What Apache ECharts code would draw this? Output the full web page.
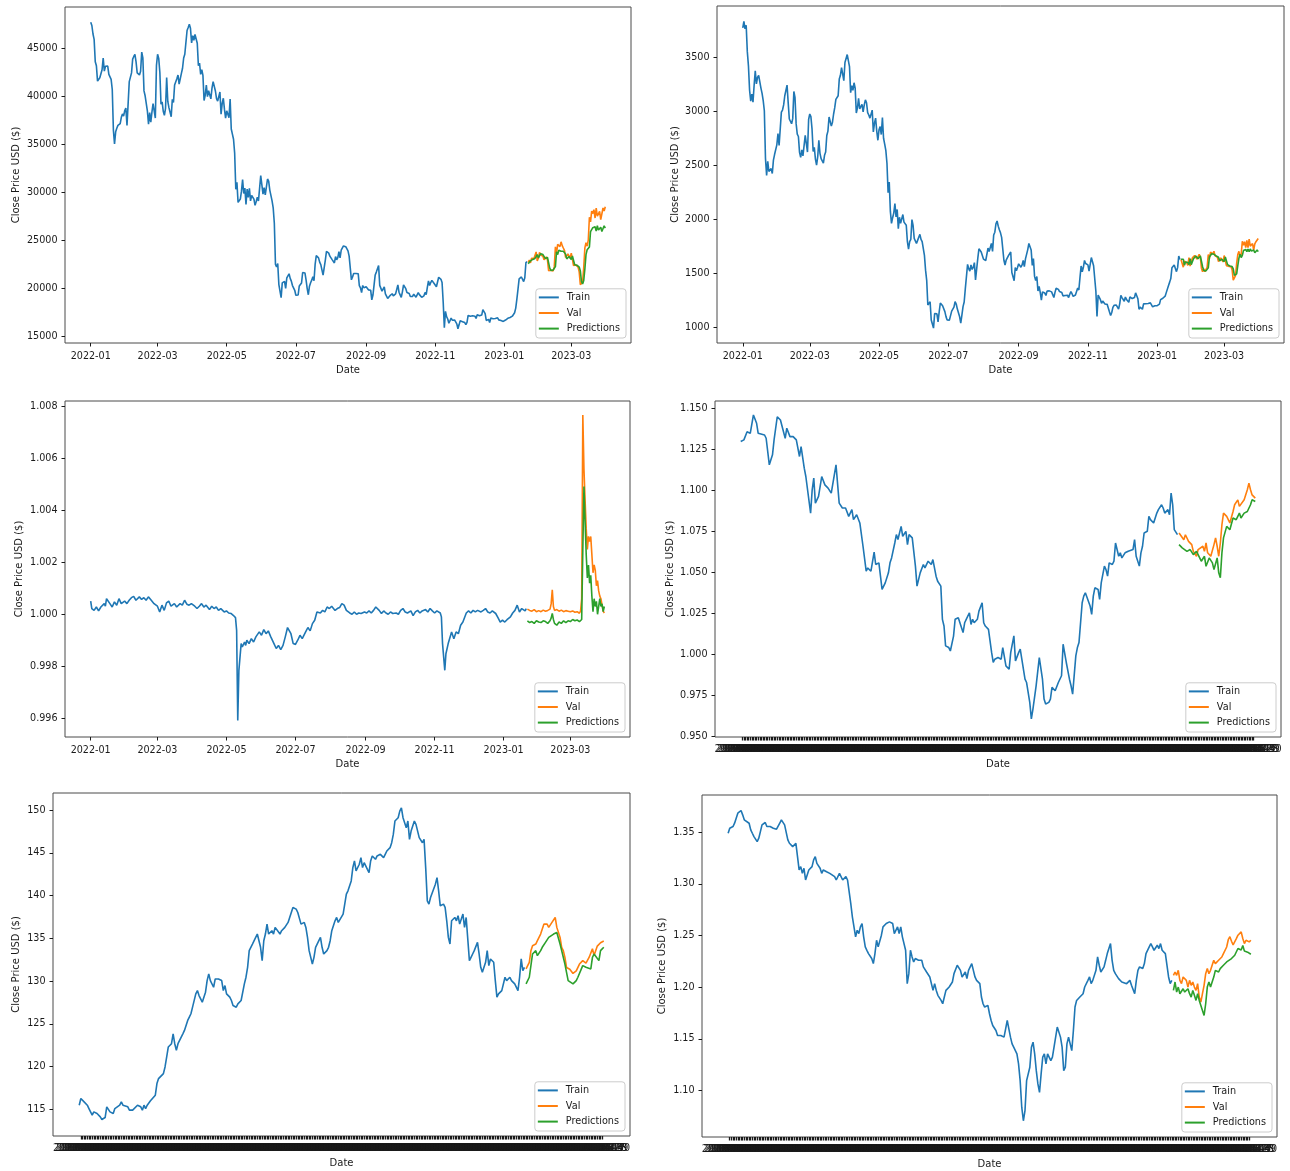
<!DOCTYPE html>
<html>
<head>
<meta charset="utf-8">
<title>Close price: train, validation and predictions</title>
<script src="https://cdn.jsdelivr.net/npm/echarts@6/dist/echarts.min.js"></script>
<style>
  html, body { margin: 0; padding: 0; background: #ffffff; }
  #chart { width: 1290px; height: 1171px; }
</style>
</head>
<body>
<div id="chart"></div>
<script>
// ---------------- data ----------------
// Crypto panels: x is the day offset from 2022-01-01 (daily closes).
const cryptoTickDays = [0, 59, 120, 181, 243, 304, 365, 424];
const cryptoTickLabels = ['2022-01', '2022-03', '2022-05', '2022-07', '2022-09', '2022-11', '2023-01', '2023-03'];
const cryptoLastDay = 454;
const valStartDay = 386;

const btcTrain = [
  47686, 47345, 46458, 45897, 43569, 43160, 41558, 41734, 41912, 41822,
  42736, 43949, 42592, 43099, 43177, 43113, 42250, 42375, 41744, 40681,
  36458, 35031, 36276, 36654, 36954, 36852, 37138, 37784, 38138, 37917,
  38483, 38743, 36952, 37154, 41501, 41441, 42412, 43841, 44118, 44338,
  43565, 42407, 42244, 42197, 42586, 44575, 43961, 40538, 40030, 40122,
  38431, 37075, 38286, 37296, 38332, 39214, 39105, 37709, 43194, 44354,
  43925, 42452, 39148, 39398, 38420, 37988, 38731, 41941, 39439, 38795,
  38905, 37849, 39666, 39339, 41143, 40951, 41801, 42191, 41247, 41078,
  42358, 42893, 43960, 44349, 44500, 46820, 47128, 47465, 47063, 45538,
  46282, 45811, 46407, 46580, 45497, 43170, 43445, 42252, 42753, 42158,
  39530, 40075, 41147, 39942, 40552, 40424, 39716, 40827, 41502, 41374,
  40527, 39741, 39469, 39450, 40427, 38117, 39241, 39773, 38609, 37714,
  38470, 38529, 37750, 39698, 36575, 36040, 35502, 34059, 30296, 31023,
  28936, 29047, 29284, 30101, 31306, 29862, 30425, 28720, 30314, 29445,
  30397, 29098, 29655, 29562, 29267, 28627, 29031, 29468, 29074, 29043,
  31726, 31793, 29799, 30467, 29705, 29833, 31370, 31155, 30215, 30112,
  29083, 28360, 26762, 22487, 22206, 22572, 20381, 20471, 19017, 20553,
  20599, 20711, 19987, 21085, 21231, 21502, 21028, 20735, 20281, 20105,
  19785, 19269, 19243, 19297, 20231, 20190, 20548, 21637, 21731, 21592,
  20860, 19970, 19323, 20212, 20569, 20837, 21191, 20779, 22485, 23389,
  23231, 23164, 22715, 22465, 22610, 21361, 21239, 22930, 23843, 23804,
  23656, 23336, 23314, 22978, 22846, 22630, 23289, 22961, 23175, 23810,
  23149, 23954, 23935, 24403, 24442, 24319, 24136, 23883, 23336, 23213,
  20877, 21166, 21534, 21399, 21529, 21369, 21515, 20260, 20035, 19550,
  20286, 20049, 20127, 20147, 19970, 19832, 20001, 19796, 18791, 19292,
  19319, 21381, 21680, 21769, 22371, 20296, 20242, 19701, 19773, 20128,
  19420, 19297, 18938, 18802, 19222, 19110, 19426, 19207, 19079, 19413,
  19297, 20340, 19587, 19313, 19044, 19623, 20336, 20160, 19955, 19546,
  19417, 19446, 19141, 19052, 19157, 19382, 19185, 19068, 19268, 19550,
  19334, 19139, 19053, 19172, 19208, 19567, 19345, 20095, 20771, 20286,
  20595, 20818, 20635, 20495, 20485, 20159, 20209, 21147, 21282, 20926,
  20602, 18541, 15880, 17586, 17034, 16799, 16353, 16618, 16884, 16669,
  16687, 16697, 16711, 16291, 15787, 16189, 16610, 16604, 16522, 16459,
  16428, 16213, 16444, 17168, 16968, 17089, 16908, 17130, 16975, 17089,
  16848, 17233, 17134, 17128, 17104, 17206, 17781, 17815, 17365, 16648,
  16796, 16757, 16440, 16895, 16825, 16829, 16796, 16847, 16842, 16920,
  16706, 16548, 16634, 16607, 16547, 16625, 16688, 16679, 16863, 16836,
  16951, 16955, 17091, 17197, 17446, 17934, 18869, 19910, 20977, 20880,
  21170, 21161, 20688, 21086, 22676, 22777
];
const btcVal = [
  22720, 22934, 22636, 23117, 23033, 23078, 23031, 23774, 22840, 23139,
  23723, 23471, 23449, 23331, 22955, 22760, 23264, 22940, 21819, 21652,
  21870, 21788, 21808, 22220, 24307, 23623, 24565, 24641, 24327, 24829,
  24436, 24188, 23947, 23199, 23175, 23562, 23522, 23147, 23647, 23476,
  22362, 22354, 22430, 22410, 22198, 21705, 20363, 20188, 20633, 22163,
  24197, 24747, 24375, 24998, 27395, 26908, 28038, 27767, 28176, 27307,
  28333, 27493, 27494, 27994, 27140, 27268, 28348, 28033, 28478
];
const btcPred = [
  22550, 22700, 22850, 22800, 23000, 23050, 23100, 23050, 23500, 23150,
  23200, 23600, 23550, 23500, 23400, 23100, 22900, 23200, 23000, 22100,
  21850, 21950, 21900, 21900, 22250, 23800, 23500, 23950, 24050, 23850,
  24050, 23850, 23700, 23550, 23050, 23000, 23300, 23300, 23000, 23350,
  23250, 22450, 22350, 22400, 22400, 22200, 21800, 20700, 20450, 20800,
  22000, 23500, 24000, 23900, 24300, 25900, 25700, 26300, 26200, 26400,
  25950, 26500, 26050, 26100, 26350, 25900, 25950, 26500, 26250
];

const ethTrain = [
  3769, 3829, 3761, 3794, 3550, 3418, 3193, 3092, 3157, 3083, 3239, 3372, 3251, 3311, 3331, 3349,
  3213, 3164, 3096, 3003, 2563, 2405, 2535, 2441, 2457, 2468, 2423, 2546, 2598, 2603, 2688,
  2792, 2682, 2678, 2990, 3010, 3057, 3142, 3124, 3240, 3078, 2927, 2917, 2883, 2930, 3182, 3126,
  2884, 2786, 2765, 2618, 2573, 2641, 2586, 2598, 2776, 2782, 2621, 2922,
  2973, 2949, 2835, 2627, 2665, 2556, 2500, 2576, 2729, 2609, 2560, 2577, 2518, 2591, 2621, 2774,
  2815, 2945, 2950, 2862, 2897, 2973, 3032, 3108, 3106, 3142, 3296, 3331, 3401, 3384, 3282,
  3449, 3445, 3523, 3521, 3411, 3170, 3235, 3191, 3262, 3211, 2982, 3030, 3118, 3020, 3041,
  3062, 2992, 3057, 3104, 3077, 2986, 2964, 2935, 2922, 3009, 2808, 2889, 2935, 2815, 2730,
  2827, 2857, 2783, 2940, 2749, 2695, 2636, 2518, 2245, 2343, 2072, 1961, 2014, 2057, 2145,
  2022, 2090, 1913, 2018, 1961, 1975, 2043, 1973, 1978, 1944, 1792, 1724, 1793, 1813, 1997, 1942,
  1823, 1834, 1775, 1804, 1806, 1860, 1813, 1793, 1789, 1666, 1529, 1435, 1207, 1208, 1236,
  1068, 1086, 993, 1127, 1127, 1125, 1051, 1143, 1225, 1243, 1199, 1193, 1145, 1099, 1068,
  1059, 1067, 1074, 1150, 1134, 1187, 1238, 1216, 1169, 1169, 1097, 1038, 1113, 1191, 1234,
  1355, 1339, 1582, 1543, 1520, 1577, 1535, 1554, 1599, 1439, 1450, 1637, 1726, 1723, 1696, 1679,
  1631, 1635, 1618, 1608, 1733, 1702, 1700, 1776, 1702, 1854, 1880, 1958, 1983, 1936, 1902,
  1874, 1832, 1848, 1620, 1577, 1621, 1624, 1663, 1656, 1697, 1507, 1491, 1431, 1553, 1524, 1554,
  1587, 1578, 1556, 1577, 1618, 1561, 1633, 1636, 1719, 1776, 1761, 1716, 1573, 1636, 1471,
  1432, 1470, 1336, 1378, 1324, 1252, 1328, 1328, 1317, 1294, 1335, 1330, 1337, 1335, 1328,
  1311, 1276, 1323, 1362, 1352, 1351, 1331, 1317, 1322, 1291, 1279, 1294, 1288, 1297, 1275,
  1306, 1331, 1311, 1286, 1283, 1299, 1314, 1364, 1345, 1460, 1567, 1514, 1555, 1619, 1590, 1573,
  1578, 1519, 1531, 1645, 1628, 1570, 1568, 1334, 1100, 1299, 1287, 1256, 1222, 1243, 1253,
  1216, 1201, 1212, 1219, 1142, 1109, 1137, 1184, 1203, 1198, 1206, 1196, 1169, 1217, 1295,
  1275, 1280, 1241, 1280, 1258, 1270, 1232, 1282, 1264, 1266, 1262, 1276, 1319, 1309, 1265,
  1167, 1188, 1185, 1167, 1217, 1211, 1218, 1220, 1221, 1218, 1226, 1213, 1190, 1201, 1199, 1196,
  1200, 1214, 1215, 1256, 1251, 1269, 1264, 1288, 1321, 1336, 1387, 1418, 1451, 1550, 1552,
  1577, 1567, 1515, 1552, 1659, 1628
];
const ethVal = [
  1628, 1628, 1556, 1612, 1603, 1598, 1572, 1645, 1567, 1585,
  1642, 1640, 1665, 1672, 1631, 1616, 1674, 1651, 1547, 1515, 1541, 1515, 1506, 1555,
  1674, 1636, 1695, 1692, 1680, 1703, 1661, 1643, 1650, 1609, 1596, 1641, 1634, 1605,
  1664, 1648, 1570, 1569, 1564, 1565, 1561, 1534, 1437, 1429, 1479, 1592, 1673, 1703, 1650,
  1677, 1796, 1759, 1792, 1738, 1805, 1736, 1816, 1751, 1741, 1775, 1714, 1772, 1792, 1793, 1822
];
const ethPred = [
  1630, 1625, 1630, 1575, 1605, 1605, 1600, 1580, 1635, 1580,
  1590, 1635, 1640, 1660, 1665, 1635, 1620, 1660, 1650, 1560, 1525, 1540, 1522, 1515,
  1550, 1650, 1635, 1680, 1685, 1675, 1690, 1660, 1645, 1648, 1615, 1600, 1630, 1630,
  1608, 1650, 1640, 1580, 1572, 1567, 1566, 1562, 1540, 1480, 1470, 1495, 1570, 1640, 1675,
  1645, 1665, 1710, 1705, 1720, 1700, 1725, 1700, 1725, 1705, 1700, 1715, 1690, 1705, 1715, 1700
];

// [day offset, close]
const usdtTrain = [
  [0,1.00051],[1,1.00022],[3,1.00015],[5,1.00028],[7,1.00013],[9,1.00028],[12,1.00041],[13,1.00031],
  [14,1.00060],[17,1.00041],[19,1.00028],[21,1.00048],[23,1.00035],[25,1.00060],[27,1.00041],[30,1.00051],
  [32,1.00041],[34,1.00054],[36,1.00064],[38,1.00069],[40,1.00054],[43,1.00067],[45,1.00057],[47,1.00064],
  [49,1.00054],[51,1.00067],[53,1.00057],[56,1.00041],[57,1.00048],[59,1.00031],[61,1.00009],[63,1.00035],
  [65,1.00015],[67,1.00044],[69,1.00051],[71,1.00031],[74,1.00041],[76,1.00028],[79,1.00041],[81,1.00035],
  [83,1.00054],[85,1.00039],[87,1.00035],[89,1.00041],[92,1.00031],[94,1.00022],[96,1.00031],[98,1.00041],
  [100,1.00028],[102,1.00035],[105,1.00018],[107,1.00031],[109,1.00022],[111,1.00028],[113,1.00015],[115,1.00022],
  [118,1.00009],[120,1.00013],[122,1.00005],[124,1.00003],[126,0.99996],[128,0.99987],[129,0.99938],[130,0.99591],
  [131,0.99784],[133,0.99887],[134,0.99874],[136,0.99893],[137,0.99880],[138,0.99900],[140,0.99887],[142,0.99906],
  [144,0.99893],[146,0.99913],[149,0.99932],[151,0.99919],[153,0.99941],[155,0.99925],[157,0.99936],[159,0.99915],
  [162,0.99887],[164,0.99868],[166,0.99880],[168,0.99864],[170,0.99880],[172,0.99913],[174,0.99949],[177,0.99925],
  [179,0.99887],[181,0.99884],[183,0.99900],[185,0.99919],[187,0.99906],[190,0.99932],[192,0.99949],[194,0.99936],
  [196,0.99964],[198,0.99977],[200,1.00009],[203,1.00005],[205,1.00015],[207,1.00009],[209,1.00028],[211,1.00022],
  [213,1.00031],[216,1.00015],[218,1.00022],[220,1.00026],[222,1.00041],[224,1.00035],[226,1.00015],[229,1.00005],
  [231,1.00000],[233,1.00009],[235,1.00000],[237,1.00005],[239,1.00003],[242,1.00009],[244,1.00005],[246,1.00013],
  [248,1.00005],[250,1.00015],[252,1.00028],[255,1.00015],[257,1.00003],[259,1.00013],[261,1.00005],[263,1.00000],
  [265,1.00009],[267,1.00003],[270,1.00005],[272,1.00000],[274,1.00015],[276,1.00022],[278,1.00009],[280,1.00005],
  [283,1.00013],[285,0.99995],[287,1.00009],[289,1.00015],[291,1.00005],[293,1.00013],[296,1.00018],[298,1.00009],
  [300,1.00022],[302,1.00013],[304,1.00005],[306,1.00013],[309,1.00005],[310,0.99990],[311,0.99887],[313,0.99784],
  [314,0.99848],[316,0.99887],[319,0.99932],[321,0.99906],[323,0.99932],[325,0.99925],[327,0.99958],[329,0.99970],
  [332,1.00005],[334,1.00013],[336,1.00005],[338,1.00015],[340,1.00009],[342,1.00015],[345,1.00009],[347,1.00015],
  [349,1.00022],[351,1.00009],[353,1.00005],[355,1.00013],[358,1.00003],[360,0.99987],[362,0.99970],[364,0.99977],
  [366,0.99970],[368,0.99979],[371,0.99990],[373,1.00005],[375,1.00015],[377,1.00035],[379,1.00009],[381,1.00022],
  [384,1.00013],[385,1.00022]
];
const usdtVal = [
  [386,1.00020],[388,1.00015],[390,1.00012],[392,1.00018],[394,1.00010],[396,1.00014],[398,1.00010],[400,1.00016],
  [402,1.00012],[404,1.00015],[406,1.00020],[407,1.00040],[408,1.00094],[409,1.00030],[410,1.00015],[412,1.00018],
  [414,1.00012],[416,1.00016],[418,1.00010],[420,1.00014],[422,1.00012],[424,1.00010],[426,1.00013],[428,1.00008],
  [430,1.00010],[432,1.00004],[433,1.00012],[434,1.00060],[435,1.00768],[436,1.00560],[437,1.00440],[438,1.00330],
  [439,1.00250],[440,1.00300],[441,1.00280],[442,1.00300],[443,1.00230],[444,1.00160],[445,1.00190],[446,1.00170],
  [447,1.00110],[448,1.00130],[449,1.00090],[450,1.00070],[451,1.00060],[452,1.00035],[453,1.00012],[454,1.00005]
];
const usdtPred = [
  [386,0.99975],[388,0.99968],[390,0.99972],[392,0.99965],[394,0.99975],[396,0.99970],[398,0.99968],[400,0.99975],
  [402,0.99972],[404,0.99965],[406,0.99975],[407,0.99985],[408,1.00003],[409,0.99980],[410,0.99965],[412,0.99958],
  [414,0.99970],[416,0.99965],[418,0.99975],[420,0.99968],[422,0.99975],[424,0.99972],[426,0.99980],[428,0.99975],
  [430,0.99978],[432,0.99972],[434,0.99980],[435,1.00250],[436,1.00492],[437,1.00360],[438,1.00230],[439,1.00140],
  [440,1.00190],[441,1.00120],[442,1.00150],[443,1.00070],[444,1.00010],[445,1.00060],[446,1.00030],[447,1.00050],
  [448,1.00000],[449,0.99995],[450,1.00060],[451,1.00030],[452,1.00040],[453,1.00010],[454,1.00030]
];

// Forex panels: x is the trading-day index; every trading day is a category label.
const fxCount = 325;
const fxFirstDay = '2022-01-03';

const eurTrain = [
  [0,1.1298],[2,1.1308],[4,1.1358],[6,1.1348],[8,1.1460],[10,1.1409],[11,1.1348],[12,1.1338],[15,1.1338],[16,1.1318],
  [18,1.1156],[20,1.1217],[21,1.1308],[23,1.1449],[25,1.1429],[26,1.1419],[28,1.1318],[29,1.1379],[31,1.1328],[33,1.1328],
  [35,1.1308],[37,1.1207],[38,1.1267],[40,1.1136],[41,1.1085],[44,1.0862],[45,1.1004],[46,1.1075],[47,1.0923],[49,1.0964],
  [51,1.1085],[53,1.1034],[55,1.1014],[57,1.0984],[60,1.1156],[62,1.0923],[64,1.0893],[66,1.0893],[68,1.0842],[70,1.0883],
  [71,1.0822],[73,1.0852],[75,1.0802],[77,1.0660],[79,1.0508],[80,1.0528],[82,1.0508],[84,1.0624],[85,1.0549],[87,1.0559],
  [88,1.0478],[89,1.0397],[91,1.0437],[93,1.0498],[94,1.0559],[95,1.0589],[97,1.0680],[98,1.0731],[99,1.0701],[101,1.0781],
  [102,1.0721],[104,1.0751],[105,1.0670],[106,1.0731],[108,1.0711],[110,1.0539],[111,1.0417],[113,1.0498],[115,1.0549],[116,1.0528],
  [118,1.0569],[120,1.0549],[121,1.0579],[123,1.0478],[124,1.0447],[126,1.0417],[127,1.0215],[128,1.0174],[129,1.0053],[131,1.0043],
  [132,1.0022],[134,1.0113],[135,1.0215],[137,1.0225],[138,1.0215],[140,1.0134],[141,1.0194],[142,1.0215],[144,1.0255],[145,1.0184],
  [146,1.0215],[147,1.0194],[149,1.0215],[150,1.0265],[152,1.0316],[153,1.0194],[154,1.0174],[156,1.0154],[158,1.0012],[159,0.9952],
  [160,0.9972],[162,0.9982],[164,0.9972],[165,1.0043],[167,0.9931],[169,0.9911],[170,1.0012],[172,1.0114],[173,0.9962],[175,1.0012],
  [176,1.0033],[177,0.9972],[179,0.9850],[180,0.9830],[182,0.9709],[183,0.9608],[184,0.9668],[186,0.9810],[187,0.9820],[188,0.9982],
  [190,0.9850],[191,0.9729],[192,0.9699],[194,0.9709],[195,0.9729],[196,0.9800],[198,0.9780],[200,0.9830],[202,0.9871],[203,1.0063],
  [205,0.9952],[207,0.9850],[208,0.9810],[209,0.9759],[211,0.9992],[212,1.0043],[213,1.0073],[215,1.0316],[216,1.0356],[217,1.0377],
  [218,1.0367],[220,1.0296],[221,1.0245],[222,1.0356],[223,1.0407],[225,1.0397],[226,1.0336],[227,1.0437],[229,1.0539],[230,1.0518],
  [231,1.0478],[232,1.0559],[234,1.0549],[235,1.0569],[236,1.0680],[238,1.0599],[239,1.0620],[240,1.0589],[242,1.0620],[243,1.0610],
  [244,1.0630],[245,1.0620],[247,1.0640],[248,1.0700],[249,1.0599],[251,1.0539],[252,1.0620],[253,1.0660],[254,1.0741],[256,1.0751],
  [257,1.0842],[258,1.0822],[260,1.0802],[261,1.0812],[262,1.0862],[263,1.0883],[265,1.0913],[266,1.0893],[267,1.0862],[269,1.0883],
  [270,1.0852],[271,1.0984],[272,1.0913],[273,1.0761],[275,1.0731]
];
const eurVal = [
  [276,1.0741],[279,1.0700],[280,1.0730],[282,1.0690],[284,1.0670],[285,1.0629],[287,1.0599],[288,1.0640],[291,1.0660],[292,1.0629],
  [293,1.0680],[294,1.0620],[296,1.0599],[298,1.0670],[299,1.0711],[300,1.0660],[301,1.0599],[302,1.0680],[303,1.0791],[304,1.0862],
  [306,1.0842],[308,1.0802],[310,1.0872],[311,1.0913],[313,1.0943],[314,1.0903],[315,1.0893],[317,1.0943],[319,1.1004],[320,1.1045],
  [321,1.1004],[322,1.0973],[324,1.0953]
];
const eurPred = [
  [276,1.0670],[278,1.0650],[281,1.0629],[283,1.0640],[285,1.0609],[287,1.0629],[290,1.0569],[292,1.0599],[293,1.0538],[295,1.0589],
  [297,1.0559],[298,1.0518],[300,1.0589],[301,1.0498],[302,1.0468],[303,1.0620],[304,1.0711],[306,1.0781],[308,1.0761],[310,1.0832],
  [312,1.0822],[314,1.0862],[315,1.0832],[317,1.0862],[319,1.0872],[321,1.0913],[322,1.0943],[324,1.0933]
];

const jpyTrain = [
  [0,115.50],[1,116.28],[3,115.89],[5,115.50],[6,115.11],[8,114.33],[9,114.72],[11,114.53],[13,114.14],[14,113.83],
  [16,114.06],[17,115.31],[18,115.11],[19,114.72],[21,114.53],[22,115.11],[23,115.31],[25,115.50],[26,115.89],[27,115.50],
  [28,115.70],[30,115.31],[31,114.92],[33,114.92],[34,115.11],[36,115.50],[38,115.31],[39,114.92],[40,115.50],[41,115.11],
  [42,115.50],[44,116.01],[45,116.08],[47,116.67],[48,118.03],[49,118.61],[50,118.80],[52,119.19],[53,119.97],[54,121.13],
  [55,122.30],[57,122.69],[58,123.85],[59,122.69],[60,121.91],[61,122.69],[63,123.47],[64,123.85],[65,124.24],[67,125.41],
  [68,125.80],[69,126.19],[70,126.96],[72,128.52],[73,128.90],[74,128.32],[75,128.52],[76,127.54],[78,128.71],[79,130.07],
  [80,130.85],[81,130.07],[83,129.29],[84,130.26],[85,130.46],[86,130.26],[88,130.07],[89,128.90],[90,129.49],[91,128.52],
  [93,128.13],[94,127.74],[95,127.16],[97,126.96],[98,127.35],[99,127.16],[100,127.74],[102,129.68],[103,130.46],[104,131.62],
  [105,133.57],[107,134.34],[108,134.54],[109,135.12],[110,135.51],[112,133.96],[113,132.40],[114,134.73],[115,135.51],[116,136.67],
  [117,135.51],[119,135.90],[120,135.51],[121,136.29],[122,136.09],[124,135.51],[125,135.90],[126,136.09],[127,136.29],[129,136.87],
  [130,137.45],[131,137.65],[132,138.62],[134,138.42],[135,138.03],[136,137.84],[137,136.67],[139,136.87],[140,136.29],[141,135.12],
  [142,133.57],[144,132.01],[145,132.79],[146,133.96],[148,134.73],[149,135.12],[150,133.96],[151,133.18],[153,133.57],[154,133.96],
  [155,134.73],[156,135.90],[158,137.06],[159,137.45],[160,136.87],[161,137.06],[163,137.84],[164,139.01],[165,140.17],[166,140.56],
  [168,141.72],[169,143.28],[170,144.06],[171,142.89],[173,143.67],[174,144.44],[175,143.28],[176,143.86],[178,143.08],[179,142.70],
  [180,144.06],[181,144.64],[183,144.25],[184,144.64],[185,144.44],[186,144.83],[188,144.44],[189,144.83],[190,145.22],[192,145.61],
  [193,146.19],[194,147.16],[195,148.72],[197,149.11],[198,149.88],[199,150.27],[200,149.11],[202,147.94],[203,148.72],[204,146.58],
  [205,147.55],[207,148.72],[208,148.33],[209,148.14],[210,146.78],[212,146.19],[213,146.58],[214,143.28],[215,139.39],[216,139.01],
  [217,139.78],[218,139.98],[220,141.34],[221,142.11],[222,140.56],[223,138.81],[225,139.01],[226,138.62],[227,137.06],[228,135.12],
  [229,134.34],[230,137.06],[232,137.45],[233,137.06],[234,137.65],[235,136.67],[237,137.84],[238,136.29],[239,137.45],[241,132.40],
  [242,132.79],[243,133.18],[244,133.57],[246,134.54],[247,133.18],[248,131.62],[249,131.04],[251,132.21],[252,133.57],[253,131.82],
  [254,132.60],[256,132.21],[257,130.07],[258,128.13],[259,128.52],[261,128.90],[262,129.10],[263,130.46],[264,130.07],[266,130.46],
  [267,130.07],[268,130.26],[269,129.68],[271,128.90],[272,130.46],[273,132.60],[274,131.23],[275,131.62]
];
const jpyVal = [
  [276,131.43],[278,132.21],[279,133.57],[280,134.15],[282,134.34],[283,134.73],[284,135.12],[285,135.51],[287,136.67],[288,136.48],
  [289,136.67],[290,136.29],[292,136.87],[293,137.06],[294,137.45],[295,136.29],[297,135.12],[298,133.96],[299,133.57],[300,132.79],
  [301,131.60],[303,131.40],[305,130.90],[307,131.20],[309,132.00],[311,132.40],[313,132.10],[315,132.80],[317,133.80],[318,133.00],
  [320,134.10],[322,134.50],[324,134.70]
];
const jpyPred = [
  [276,129.68],[278,130.46],[280,133.18],[282,133.57],[283,132.98],[285,133.57],[286,133.96],[288,134.54],[290,135.12],[291,135.31],
  [293,135.51],[295,135.70],[297,134.34],[298,133.57],[300,132.01],[301,131.04],[302,130.07],[303,129.88],[305,129.68],[307,130.07],
  [308,130.46],[311,131.82],[313,131.62],[316,131.43],[317,132.79],[318,133.18],[321,132.40],[322,133.57],[324,133.96]
];

const gbpTrain = [
  [0,1.3490],[1,1.3539],[3,1.3555],[4,1.3587],[5,1.3636],[6,1.3684],[8,1.3710],[9,1.3668],[10,1.3620],[11,1.3603],
  [13,1.3587],[14,1.3523],[15,1.3490],[16,1.3458],[18,1.3409],[19,1.3442],[20,1.3506],[21,1.3571],[23,1.3594],[24,1.3555],
  [25,1.3539],[26,1.3555],[28,1.3539],[29,1.3555],[30,1.3529],[32,1.3587],[33,1.3620],[34,1.3603],[35,1.3571],[37,1.3426],
  [38,1.3393],[39,1.3409],[40,1.3361],[42,1.3393],[43,1.3264],[44,1.3135],[45,1.3167],[46,1.3102],[47,1.3151],[48,1.3038],
  [49,1.3021],[50,1.3135],[52,1.3167],[53,1.3232],[54,1.3264],[55,1.3199],[57,1.3151],[58,1.3102],[59,1.3135],[61,1.3118],
  [62,1.3135],[63,1.3102],[64,1.3086],[66,1.3070],[67,1.3038],[68,1.3021],[69,1.3102],[71,1.3038],[72,1.3021],[73,1.3070],
  [74,1.3038],[76,1.2811],[77,1.2682],[78,1.2585],[79,1.2488],[80,1.2552],[81,1.2520],[82,1.2585],[83,1.2617],[84,1.2488],
  [85,1.2391],[86,1.2358],[87,1.2326],[89,1.2278],[90,1.2229],[91,1.2326],[92,1.2455],[93,1.2391],[95,1.2504],[96,1.2585],
  [97,1.2585],[98,1.2617],[100,1.2633],[101,1.2650],[102,1.2617],[103,1.2520],[105,1.2585],[106,1.2520],[107,1.2585],[108,1.2488],
  [110,1.2358],[111,1.2035],[112,1.2132],[113,1.2358],[114,1.2294],[115,1.2245],[116,1.2278],[118,1.2261],[119,1.2278],[120,1.2261],
  [121,1.2197],[123,1.2148],[124,1.2164],[125,1.2100],[127,1.1970],[128,1.2035],[129,1.1970],[130,1.1922],[132,1.1873],[133,1.1841],
  [134,1.1906],[135,1.1970],[137,1.2003],[138,1.2019],[139,1.2051],[140,1.2132],[142,1.2213],[143,1.2197],[144,1.2164],[145,1.2100],
  [147,1.2148],[148,1.2084],[149,1.2164],[151,1.2229],[152,1.2164],[153,1.2100],[154,1.2067],[156,1.2035],[157,1.1906],[158,1.1841],
  [159,1.1809],[161,1.1825],[162,1.1744],[163,1.1679],[164,1.1631],[166,1.1582],[167,1.1534],[168,1.1518],[169,1.1534],[171,1.1518],
  [172,1.1598],[173,1.1679],[174,1.1598],[175,1.1518],[176,1.1453],[177,1.1421],[179,1.1356],[180,1.1259],[181,1.1097],[182,1.0838],
  [183,1.0709],[184,1.0806],[185,1.1097],[187,1.1227],[188,1.1421],[189,1.1469],[190,1.1356],[191,1.1194],[192,1.1065],[193,1.0984],
  [194,1.1162],[195,1.1324],[196,1.1356],[197,1.1259],[198,1.1356],[200,1.1291],[201,1.1324],[202,1.1421],[204,1.1615],[205,1.1598],
  [206,1.1518],[207,1.1421],[208,1.1194],[209,1.1227],[210,1.1453],[211,1.1518],[213,1.1388],[214,1.1582],[215,1.1809],[216,1.1873],
  [218,1.1906],[219,1.1890],[220,1.1938],[221,1.2003],[223,1.2067],[224,1.2100],[225,1.2035],[226,1.2067],[228,1.2164],[229,1.2294],
  [230,1.2213],[231,1.2148],[233,1.2197],[234,1.2261],[235,1.2326],[237,1.2423],[238,1.2261],[239,1.2164],[240,1.2132],[242,1.2084],
  [243,1.2067],[244,1.2051],[245,1.2067],[247,1.2035],[248,1.2051],[249,1.2067],[250,1.2019],[252,1.1938],[253,1.2067],[254,1.2164],
  [255,1.2197],[257,1.2181],[258,1.2229],[259,1.2326],[261,1.2391],[262,1.2423],[263,1.2391],[264,1.2358],[266,1.2407],[267,1.2375],
  [268,1.2423],[269,1.2358],[271,1.2326],[272,1.2310],[273,1.2100],[274,1.2035],[275,1.2067]
];
const gbpVal = [
  [276,1.2116],[277,1.2148],[278,1.2116],[279,1.2164],[280,1.2067],[281,1.2035],[282,1.2099],[283,1.2116],[284,1.2067],[285,1.2002],
  [286,1.2067],[287,1.2019],[288,1.2051],[289,1.2002],[290,1.1970],[291,1.2035],[292,1.1905],[293,1.1857],[294,1.1938],[295,1.2019],
  [296,1.2132],[297,1.2181],[298,1.2132],[299,1.2164],[300,1.2213],[301,1.2261],[302,1.2229],[304,1.2261],[305,1.2278],[306,1.2293],
  [307,1.2326],[308,1.2342],[309,1.2390],[310,1.2460],[311,1.2490],[312,1.2445],[313,1.2410],[315,1.2470],[316,1.2504],[318,1.2536],
  [319,1.2472],[320,1.2423],[321,1.2455],[323,1.2439],[324,1.2455]
];
const gbpPred = [
  [276,1.1970],[277,1.2051],[278,1.1954],[279,1.2002],[280,1.1938],[281,1.1922],[282,1.1986],[283,1.1954],[284,1.1938],[285,1.1986],
  [286,1.1938],[287,1.1905],[288,1.1970],[289,1.1922],[290,1.1873],[291,1.1938],[292,1.1873],[293,1.1825],[294,1.1808],[295,1.1728],
  [296,1.1841],[297,1.2002],[298,1.2051],[299,1.2002],[300,1.1986],[301,1.2099],[302,1.2164],[304,1.2148],[305,1.2181],[306,1.2196],
  [307,1.2213],[308,1.2229],[309,1.2245],[310,1.2261],[312,1.2278],[314,1.2310],[316,1.2375],[318,1.2360],[319,1.2405],[320,1.2350],
  [321,1.2335],[322,1.2340],[324,1.2320]
];

// y tick values per panel
const btcYTicks = [15000, 20000, 25000, 30000, 35000, 40000, 45000];
const ethYTicks = [1000, 1500, 2000, 2500, 3000, 3500];
const usdtYTicks = [0.996, 0.998, 1.000, 1.002, 1.004, 1.006, 1.008];
const eurYTicks = [0.950, 0.975, 1.000, 1.025, 1.050, 1.075, 1.100, 1.125, 1.150];
const jpyYTicks = [115, 120, 125, 130, 135, 140, 145, 150];
const gbpYTicks = [1.10, 1.15, 1.20, 1.25, 1.30, 1.35];

// ---------------- derived tables ----------------
function dense(values, start) { return values.map((v, i) => [start + i, v]); }

// trading-day labels (Mon-Fri) used as forex category names
const fxDates = [];
for (let t = Date.parse(fxFirstDay + 'T00:00:00Z'); fxDates.length < fxCount; t += 86400000) {
  const d = new Date(t);
  const wd = d.getUTCDay();
  if (wd !== 0 && wd !== 6) fxDates.push(d.toISOString().slice(0, 10));
}
const fxIndices = fxDates.map((_, i) => i);

const panels = [
  { kind: 'crypto', train: dense(btcTrain, 0), val: dense(btcVal, valStartDay), pred: dense(btcPred, valStartDay),
    yMin: 14300, yMax: 49270, yTicks: btcYTicks, dec: 0 },
  { kind: 'crypto', train: dense(ethTrain, 0), val: dense(ethVal, valStartDay), pred: dense(ethPred, valStartDay),
    yMin: 855, yMax: 3972, yTicks: ethYTicks, dec: 0 },
  { kind: 'crypto', train: usdtTrain, val: usdtVal, pred: usdtPred,
    yMin: 0.99527, yMax: 1.00822, yTicks: usdtYTicks, dec: 3 },
  { kind: 'fx', train: eurTrain, val: eurVal, pred: eurPred,
    yMin: 0.9498, yMax: 1.1545, yTicks: eurYTicks, dec: 3 },
  { kind: 'fx', train: jpyTrain, val: jpyVal, pred: jpyPred,
    yMin: 111.9, yMax: 152.0, yTicks: jpyYTicks, dec: 0 },
  { kind: 'fx', train: gbpTrain, val: gbpVal, pred: gbpPred,
    yMin: 1.0552, yMax: 1.386, yTicks: gbpYTicks, dec: 2 }
];

// ---------------- layout & style ----------------
const W = 1290, H = 1171;
const boxes = [
  { left: 65,  top: 7,   width: 566, height: 336, yNameGap: 44 },
  { left: 717, top: 6,   width: 567, height: 337, yNameGap: 37 },
  { left: 65,  top: 401, width: 565, height: 336, yNameGap: 41 },
  { left: 715, top: 401, width: 566, height: 336, yNameGap: 40 },
  { left: 53,  top: 793, width: 577, height: 343, yNameGap: 32 },
  { left: 702, top: 795, width: 575, height: 342, yNameGap: 35 }
];
const FONT = 'DejaVu Sans';
const INK = '#1a1a1a';
const SPINE = '#4a4a4a';
const COLORS = { Train: '#1f77b4', Val: '#ff7f0e', Predictions: '#2ca02c' };
const LINE_W = 1.6;

const grids = [], xAxes = [], yAxes = [], series = [], legends = [];

panels.forEach((p, k) => {
  const b = boxes[k];
  grids.push({
    left: b.left, top: b.top, width: b.width, height: b.height,
    show: true, borderColor: SPINE, borderWidth: 1, backgroundColor: 'transparent',
    containLabel: false, outerBoundsMode: 'none'
  });

  const crypto = p.kind === 'crypto';
  const xMin = crypto ? -0.05 * cryptoLastDay : -0.05 * (fxCount - 1);
  const xMax = crypto ? cryptoLastDay * 1.05 : (fxCount - 1) * 1.05;
  const xTicks = crypto ? cryptoTickDays : fxIndices;

  xAxes.push({
    type: 'value', gridIndex: k, min: xMin, max: xMax,
    name: 'Date', nameLocation: 'middle', nameGap: 22,
    nameTextStyle: { fontFamily: FONT, fontSize: 10, color: INK },
    axisLine: { show: false, onZero: false },
    axisTick: { show: true, length: 3.5, customValues: xTicks, lineStyle: { color: INK, width: crypto ? 1 : 1.3 } },
    axisLabel: {
      customValues: xTicks, margin: crypto ? 8 : 7, hideOverlap: false,
      fontFamily: FONT, fontSize: 9.6, color: INK,
      formatter: crypto
        ? (v) => cryptoTickLabels[cryptoTickDays.indexOf(Math.round(v))] || ''
        : (v) => fxDates[Math.round(v)] || ''
    },
    splitLine: { show: false }
  });

  yAxes.push({
    type: 'value', gridIndex: k, min: p.yMin, max: p.yMax,
    name: 'Close Price USD ($)', nameLocation: 'middle', nameGap: b.yNameGap,
    nameTextStyle: { fontFamily: FONT, fontSize: 10, color: INK },
    axisLine: { show: false, onZero: false },
    axisTick: { show: true, length: 3.5, customValues: p.yTicks, lineStyle: { color: INK, width: 1 } },
    axisLabel: {
      customValues: p.yTicks, margin: 7.5,
      fontFamily: FONT, fontSize: 9.6, color: INK,
      formatter: (v) => Number(v).toFixed(p.dec)
    },
    splitLine: { show: false }
  });

  [['Train', p.train], ['Val', p.val], ['Predictions', p.pred]].forEach(([name, data]) => {
    series.push({
      type: 'line', name, xAxisIndex: k, yAxisIndex: k, data,
      showSymbol: false, symbol: 'none', smooth: false,
      lineStyle: { color: COLORS[name], width: LINE_W },
      itemStyle: { color: COLORS[name] },
      emphasis: { disabled: true }, silent: true, animation: false
    });
  });

  legends.push({
    data: ['Train', 'Val', 'Predictions'],
    orient: 'vertical',
    right: W - (b.left + b.width - 5),
    bottom: H - (b.top + b.height - 5),
    icon: 'rect', itemWidth: 20, itemHeight: 2, itemGap: 3.6,
    padding: [2.6, 6, 3.4, 3],
    backgroundColor: 'rgba(255,255,255,0.8)',
    borderColor: '#cccccc', borderWidth: 1, borderRadius: 3,
    selectedMode: false,
    textStyle: { fontFamily: FONT, fontSize: 9.7, color: INK, lineHeight: 12, padding: [0, 0, 0, 3] }
  });
});

const chart = echarts.init(document.getElementById('chart'), null, { renderer: 'canvas', width: W, height: H });
chart.setOption({
  backgroundColor: '#ffffff',
  animation: false,
  grid: grids,
  xAxis: xAxes,
  yAxis: yAxes,
  legend: legends,
  series: series
});
</script>
</body>
</html>
